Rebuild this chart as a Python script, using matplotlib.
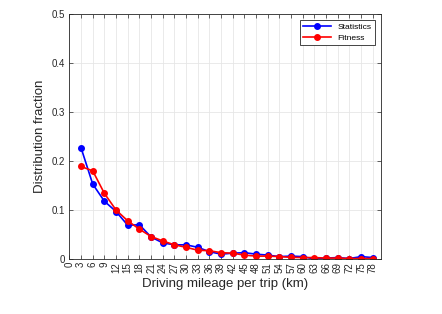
import numpy as np
import matplotlib
matplotlib.use('Agg')
import matplotlib.pyplot as plt

plt.rcParams['font.family'] = ['Liberation Sans', 'DejaVu Sans']

mileage = [3, 6, 9, 12, 15, 18, 21, 24, 27, 30, 33, 36, 39, 42, 45, 48, 51, 54, 57, 60, 63, 66, 69, 72, 75, 78]
statistics = [0.227, 0.153, 0.118, 0.097, 0.069, 0.070, 0.045, 0.033, 0.029, 0.029, 0.024, 0.015, 0.010,
              0.012, 0.013, 0.010, 0.008, 0.005, 0.006, 0.005, 0.000, 0.002, 0.003, 0.001, 0.005, 0.003]
fitness = [0.189, 0.180, 0.134, 0.100, 0.078, 0.061, 0.046, 0.037, 0.029, 0.024, 0.018, 0.017, 0.013,
           0.012, 0.008, 0.006, 0.006, 0.005, 0.0035, 0.003, 0.003, 0.002, 0.002, 0.001, 0.001, 0.001]
xticks = list(range(0, 79, 3))
yticks = [0, 0.1, 0.2, 0.3, 0.4, 0.5]

fig = plt.figure(figsize=(4.42, 3.14), dpi=100)
ax = fig.add_axes([0.157, 0.175, 0.704, 0.78])

ax.plot(mileage, statistics, '-o', color='#0000ff', linewidth=1.2, markersize=4, label='Statistics')
ax.plot(mileage, fitness, '-o', color='#ff0000', linewidth=1.2, markersize=4, label='Fitness')

ax.set_xlim(0, 80)
ax.set_ylim(0, 0.5)
ax.set_xticks(xticks)
ax.set_xticklabels([str(t) for t in xticks], rotation=90)
ax.set_yticks(yticks)
ax.set_yticklabels(['0', '0.1', '0.2', '0.3', '0.4', '0.5'])

gray = '#262626'
ax.tick_params(direction='in', length=3, width=0.5, labelsize=7, colors=gray, top=True, right=True,
               labeltop=False, labelright=False)
ax.tick_params(axis='x', pad=2)
ax.tick_params(axis='y', pad=3.5)
for s in ax.spines.values():
    s.set_color(gray)
    s.set_linewidth(0.6)
ax.grid(True, color='#e6e6e6', linewidth=0.6)
ax.set_axisbelow(True)

ax.set_xlabel('Driving mileage per trip (km)', fontsize=9.5, color=gray, labelpad=4)
ax.set_ylabel('Distribution fraction', fontsize=9.5, color=gray, labelpad=4)

leg = ax.legend(loc='upper right', fontsize=6.1, fancybox=False, framealpha=1, edgecolor=gray,
                handlelength=3.3, borderpad=0.35, labelspacing=0.35, borderaxespad=0.7)
leg.get_frame().set_linewidth(0.6)

fig.savefig('out.png', dpi=100)
